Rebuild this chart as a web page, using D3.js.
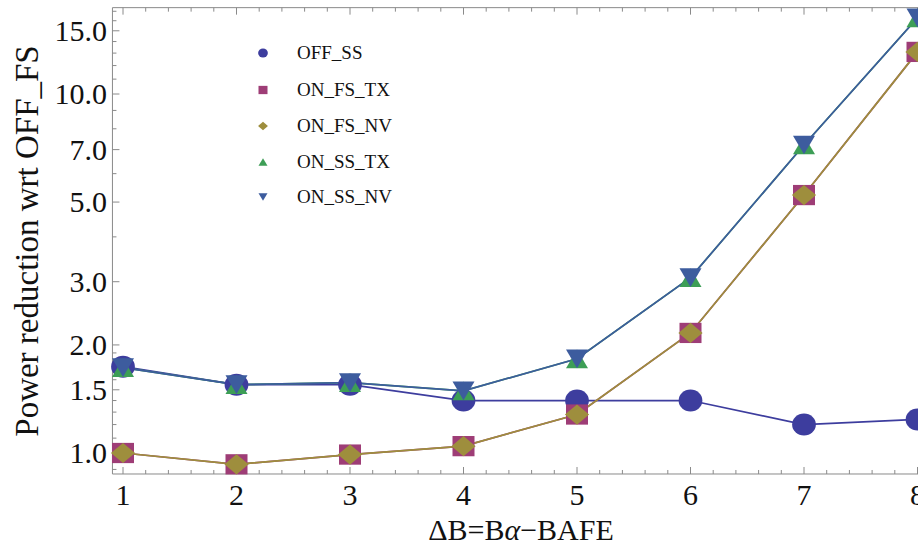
<!DOCTYPE html>
<html>
<head>
<meta charset="utf-8">
<script src="https://cdn.jsdelivr.net/npm/d3@7"></script>
<style>
  html, body { margin: 0; padding: 0; background: #fff; }
  svg { display: block; }
  text { font-family: "Liberation Serif", "Times New Roman", serif; fill: #111; }
</style>
</head>
<body>
<svg id="chart" width="918" height="548"></svg>
<script>
// ---- data ----
const xValues = [1, 2, 3, 4, 5, 6, 7, 8];
const seriesNames = ["OFF_SS", "ON_FS_TX", "ON_FS_NV", "ON_SS_TX", "ON_SS_NV"];
const offSS   = [1.74, 1.55, 1.55, 1.40, 1.40, 1.40, 1.20, 1.24];
const onFsTx  = [1.00, 0.93, 0.99, 1.045, 1.28, 2.16, 5.23, 13.1];
const onFsNv  = [1.00, 0.93, 0.99, 1.045, 1.28, 2.16, 5.23, 13.1];
const onSsTx  = [1.73, 1.55, 1.57, 1.49, 1.83, 3.08, 7.21, 16.3];
const onSsNv  = [1.73, 1.55, 1.57, 1.49, 1.83, 3.08, 7.21, 16.3];
const yMajorTicks = [1.0, 1.5, 2.0, 3.0, 5.0, 7.0, 10.0, 15.0];
const yMinorTicks = [0.9, 1.1, 1.2, 1.3, 1.4, 1.6, 1.7, 1.8, 1.9, 4, 6, 8, 9, 11, 12, 13, 14, 16, 17];
const xMajorTicks = [1, 2, 3, 4, 5, 6, 7, 8];
const yLabel = "Power reduction wrt OFF_FS";

// ---- styles ----
const colors = ["#3d3d9e", "#9e3d76", "#9e8e3d", "#3d9e56", "#3d5c9e"];
const shapes = ["circle", "square", "diamond", "triUp", "triDown"];
const allSeries = [offSS, onFsTx, onFsNv, onSsTx, onSsNv];

const svg = d3.select("#chart");
const x = d3.scaleLinear().domain([1, 8]).range([123, 917.5]);
const y = d3.scaleLog().domain([1, 10]).range([453, 94]);

const xMin = 0.907, xMax = 8.12, yMin = 0.874, yMax = 17.4;
const L = x(xMin), R = x(xMax), T = y(yMax), B = y(yMin);
const frameColor = "#8a8a8a";

// frame
const frame = svg.append("g");
frame.append("line").attr("x1", L).attr("x2", L).attr("y1", T).attr("y2", B).attr("stroke", frameColor);
frame.append("line").attr("x1", L).attr("x2", R).attr("y1", B).attr("y2", B).attr("stroke", frameColor);
frame.append("line").attr("x1", L).attr("x2", R).attr("y1", T).attr("y2", T).attr("stroke", frameColor);

// x ticks (bottom and top)
const xMinor = [];
for (let i = 1; i <= 8; i++) for (let k = 1; k <= 4; k++) xMinor.push(+(i + k * 0.2).toFixed(1));
xMajorTicks.forEach(v => {
  frame.append("line").attr("x1", x(v)).attr("x2", x(v)).attr("y1", B).attr("y2", B - 7).attr("stroke", frameColor);
  frame.append("line").attr("x1", x(v)).attr("x2", x(v)).attr("y1", T).attr("y2", T + 7).attr("stroke", frameColor);
  frame.append("text").attr("x", x(v)).attr("y", 505).attr("text-anchor", "middle")
    .attr("font-size", 30).text(d3.format("d")(v));
});
xMinor.filter(v => v < xMax).forEach(v => {
  frame.append("line").attr("x1", x(v)).attr("x2", x(v)).attr("y1", B).attr("y2", B - 4).attr("stroke", frameColor);
  frame.append("line").attr("x1", x(v)).attr("x2", x(v)).attr("y1", T).attr("y2", T + 4).attr("stroke", frameColor);
});

// y ticks
yMajorTicks.forEach(v => {
  frame.append("line").attr("x1", L).attr("x2", L + 7).attr("y1", y(v)).attr("y2", y(v)).attr("stroke", frameColor);
  frame.append("text").attr("x", 107).attr("y", y(v)).attr("dy", "0.34em").attr("text-anchor", "end")
    .attr("font-size", 30).text(d3.format(".1f")(v));
});
yMinorTicks.filter(v => v > yMin && v < yMax).forEach(v => {
  frame.append("line").attr("x1", L).attr("x2", L + 4).attr("y1", y(v)).attr("y2", y(v)).attr("stroke", frameColor);
});

// axis labels
const xl = svg.append("text").attr("x", 521).attr("y", 540).attr("text-anchor", "middle").attr("font-size", 30);
xl.append("tspan").text("ΔB=B");
xl.append("tspan").attr("font-style", "italic").text("α");
xl.append("tspan").text("−BAFE");
svg.append("text").attr("transform", "translate(38,241) rotate(-90)").attr("text-anchor", "middle")
  .attr("font-size", 33).text(yLabel);

// lines
const line = d3.line().x(d => x(d[0])).y(d => y(d[1]));
allSeries.forEach((s, i) => {
  svg.append("path").datum(xValues.map((xv, j) => [xv, s[j]]))
    .attr("d", line).attr("fill", "none").attr("stroke", colors[i]).attr("stroke-width", 1.7);
});

// markers
function drawMarker(g, shape, cx, cy, size, color) {
  const h = size / 2;
  if (shape === "circle") {
    g.append("ellipse").attr("cx", cx).attr("cy", cy).attr("rx", h * 1.08).attr("ry", h).attr("fill", color);
  } else if (shape === "square") {
    g.append("rect").attr("x", cx - h).attr("y", cy - h * 0.92).attr("width", size).attr("height", size * 0.92).attr("fill", color);
  } else if (shape === "diamond") {
    const w = h * 1.1, v = h * 0.92;
    g.append("path").attr("d", `M${cx - w},${cy}L${cx},${cy - v}L${cx + w},${cy}L${cx},${cy + v}Z`).attr("fill", color);
  } else if (shape === "triUp") {
    const v = h * 0.85;
    g.append("path").attr("d", `M${cx - h},${cy + v}L${cx + h},${cy + v}L${cx},${cy - v}Z`).attr("fill", color);
  } else if (shape === "triDown") {
    const v = h * 0.85;
    g.append("path").attr("d", `M${cx - h},${cy - v}L${cx + h},${cy - v}L${cx},${cy + v}Z`).attr("fill", color);
  }
}
const mg = svg.append("g");
allSeries.forEach((s, i) => {
  s.forEach((v, j) => drawMarker(mg, shapes[i], x(xValues[j]), y(v), 22, colors[i]));
});

// legend
const lg = svg.append("g");
const legendY = [53, 90, 126, 162, 197];
seriesNames.forEach((name, i) => {
  drawMarker(lg, shapes[i], 263, legendY[i], 9, colors[i]);
  lg.append("text").attr("x", 297).attr("y", legendY[i]).attr("dy", "0.34em").attr("font-size", 19).text(name);
});
</script>
</body>
</html>
